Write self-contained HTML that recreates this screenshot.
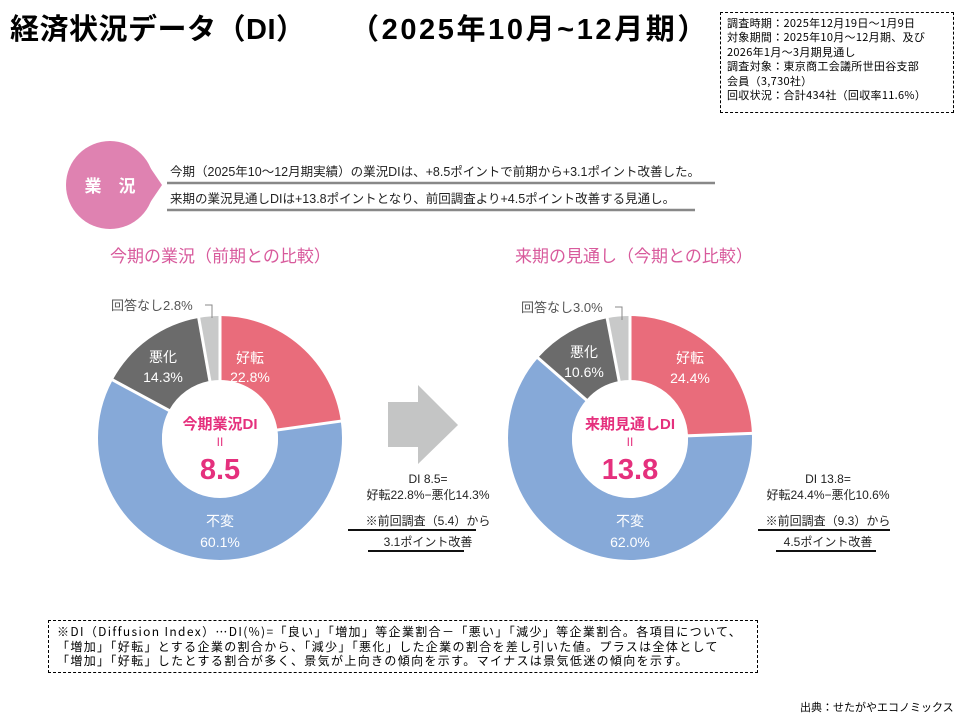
<!DOCTYPE html>
<html><head><meta charset="utf-8"><style>
body{margin:0;width:960px;height:720px;background:#fff;overflow:hidden;font-family:"Liberation Sans","Noto Sans CJK JP",sans-serif}
.title{position:absolute;top:6px;font-size:29px;font-weight:bold;color:#000;white-space:nowrap;letter-spacing:0.5px}
.info{position:absolute;left:720px;top:12px;width:226px;height:96px;border:1px dashed #000;font-family:"WenQuanYi Zen Hei","Noto Sans CJK JP",sans-serif;font-size:11px;line-height:14.4px;padding:3px 0 0 6px;white-space:nowrap;letter-spacing:0.3px}
.note{position:absolute;left:48px;top:620px;width:700px;height:47px;border:1px dashed #000;font-family:"WenQuanYi Zen Hei","Noto Sans CJK JP",sans-serif;font-size:12px;line-height:14.5px;padding:4px 0 0 8px;white-space:nowrap;letter-spacing:1.35px}
.src{position:absolute;left:800px;top:699px;font-size:11px;white-space:nowrap}
</style></head><body>
<div class="title" style="left:10px">経済状況データ（DI）</div>
<div class="title" style="left:350px;letter-spacing:2.6px">（2025年10月~12月期）</div>
<div class="info">調査時期：2025年12月19日～1月9日<br>対象期間：2025年10月～12月期、及び<br>2026年1月～3月期見通し<br>調査対象：東京商工会議所世田谷支部<br>会員（3,730社）<br>回収状況：合計434社（回収率11.6%）</div>
<svg width="960" height="720" style="position:absolute;left:0;top:0" font-family="Liberation Sans, Noto Sans CJK JP, sans-serif">
<circle cx="110" cy="185" r="44" fill="#df82b1"/>
<path d="M145,160 L162,185 L145,210 Z" fill="#df82b1"/>
<text x="110" y="192" font-size="17" fill="#fff" text-anchor="middle" font-weight="bold">業　況</text>
<text x="170" y="176" font-size="12.5" fill="#222">今期（2025年10～12月期実績）の業況DIは、+8.5ポイントで前期から+3.1ポイント改善した。</text>
<line x1="167" y1="183" x2="715" y2="183" stroke="#888" stroke-width="2.5"/>
<text x="170" y="203" font-size="12.5" fill="#222">来期の業況見通しDIは+13.8ポイントとなり、前回調査より+4.5ポイント改善する見通し。</text>
<line x1="167" y1="210" x2="695" y2="210" stroke="#888" stroke-width="2.5"/>
<text x="110" y="262" font-size="17" fill="#d85a9c">今期の業況（前期との比較）</text>
<text x="515" y="262" font-size="17" fill="#d85a9c">来期の見通し（今期との比較）</text>

<g transform="translate(220,438) rotate(-90)">
<circle r="90" fill="none" stroke="#e96c7b" stroke-width="64" stroke-dasharray="128.9 600" stroke-dashoffset="0"/>
<circle r="90" fill="none" stroke="#86a9d8" stroke-width="64" stroke-dasharray="339.9 600" stroke-dashoffset="-128.9"/>
<circle r="90" fill="none" stroke="#6b6b6b" stroke-width="64" stroke-dasharray="80.9 600" stroke-dashoffset="-468.8"/>
<circle r="90" fill="none" stroke="#c8c9c9" stroke-width="64" stroke-dasharray="15.8 600" stroke-dashoffset="-549.7"/>
</g>
<g transform="translate(220,438)" stroke="#fff" stroke-width="3">
<line x1="0" y1="0" x2="0" y2="-125"/>
<line x1="0" y1="0" x2="123.8" y2="-17.3"/>
<line x1="0" y1="0" x2="-110" y2="-59.5"/>
<line x1="0" y1="0" x2="-21.8" y2="-123"/>
</g>
<circle cx="220" cy="440" r="58" fill="#fff"/>
<g font-size="14" fill="#fff" text-anchor="middle">
<text x="250" y="363">好転</text><text x="250" y="382">22.8%</text>
<text x="163" y="362">悪化</text><text x="163" y="382">14.3%</text>
<text x="220" y="526">不変</text><text x="220" y="547">60.1%</text>
</g>
<text x="111" y="310" font-size="13" fill="#555">回答なし2.8%</text>
<polyline points="205,305 212,305 212,318" fill="none" stroke="#888"/>
<text x="220" y="429" font-size="15" fill="#e5307d" text-anchor="middle" font-weight="bold">今期業況DI</text>
<text x="220" y="446" font-size="12" fill="#e5307d" text-anchor="middle">II</text>
<text x="220" y="479" font-size="29" fill="#e5307d" text-anchor="middle" font-weight="bold">8.5</text>

<path d="M388,402 L418,402 L418,385 L458,425 L418,464 L418,447 L388,447 Z" fill="#c4c5c5"/>
<g font-size="12" fill="#222" text-anchor="middle">
<text x="428" y="483">DI 8.5=</text>
<text x="428" y="499">好転22.8%−悪化14.3%</text>
<text x="428" y="525">※前回調査（5.4）から</text>
<text x="428" y="546">3.1ポイント改善</text>
<text x="828" y="483">DI 13.8=</text>
<text x="828" y="499">好転24.4%−悪化10.6%</text>
<text x="828" y="525">※前回調査（9.3）から</text>
<text x="828" y="546">4.5ポイント改善</text>
</g>
<g stroke="#111" stroke-width="2">
<line x1="348" y1="530" x2="476" y2="530"/><line x1="368" y1="551" x2="464" y2="551"/>
<line x1="758" y1="530" x2="890" y2="530"/><line x1="776" y1="551" x2="876" y2="551"/>
</g>

<g transform="translate(630,438) rotate(-90)">
<circle r="90" fill="none" stroke="#e96c7b" stroke-width="64" stroke-dasharray="138.0 600" stroke-dashoffset="0"/>
<circle r="90" fill="none" stroke="#86a9d8" stroke-width="64" stroke-dasharray="350.6 600" stroke-dashoffset="-138.0"/>
<circle r="90" fill="none" stroke="#6b6b6b" stroke-width="64" stroke-dasharray="59.9 600" stroke-dashoffset="-488.6"/>
<circle r="90" fill="none" stroke="#c8c9c9" stroke-width="64" stroke-dasharray="17.0 600" stroke-dashoffset="-548.5"/>
</g>
<g transform="translate(630,438)" stroke="#fff" stroke-width="3">
<line x1="0" y1="0" x2="0" y2="-125"/>
<line x1="0" y1="0" x2="124.9" y2="-4.7"/>
<line x1="0" y1="0" x2="-94.3" y2="-82.1"/>
<line x1="0" y1="0" x2="-23.4" y2="-122.8"/>
</g>
<circle cx="630" cy="440" r="58" fill="#fff"/>
<g font-size="14" fill="#fff" text-anchor="middle">
<text x="690" y="363">好転</text><text x="690" y="383">24.4%</text>
<text x="584" y="357">悪化</text><text x="584" y="377">10.6%</text>
<text x="630" y="526">不変</text><text x="630" y="547">62.0%</text>
</g>
<text x="521" y="312" font-size="13" fill="#555">回答なし3.0%</text>
<polyline points="615,307 622,307 622,320" fill="none" stroke="#888"/>
<text x="630" y="429" font-size="15" fill="#e5307d" text-anchor="middle" font-weight="bold">来期見通しDI</text>
<text x="630" y="446" font-size="12" fill="#e5307d" text-anchor="middle">II</text>
<text x="630" y="479" font-size="29" fill="#e5307d" text-anchor="middle" font-weight="bold">13.8</text>
</svg>
<div class="note">※DI（Diffusion Index）…DI(%)=「良い」「増加」等企業割合－「悪い」「減少」等企業割合。各項目について、<br>「増加」「好転」とする企業の割合から、「減少」「悪化」した企業の割合を差し引いた値。プラスは全体として<br>「増加」「好転」したとする割合が多く、景気が上向きの傾向を示す。マイナスは景気低迷の傾向を示す。</div>
<div class="src">出典：せたがやエコノミックス</div>
</body></html>
